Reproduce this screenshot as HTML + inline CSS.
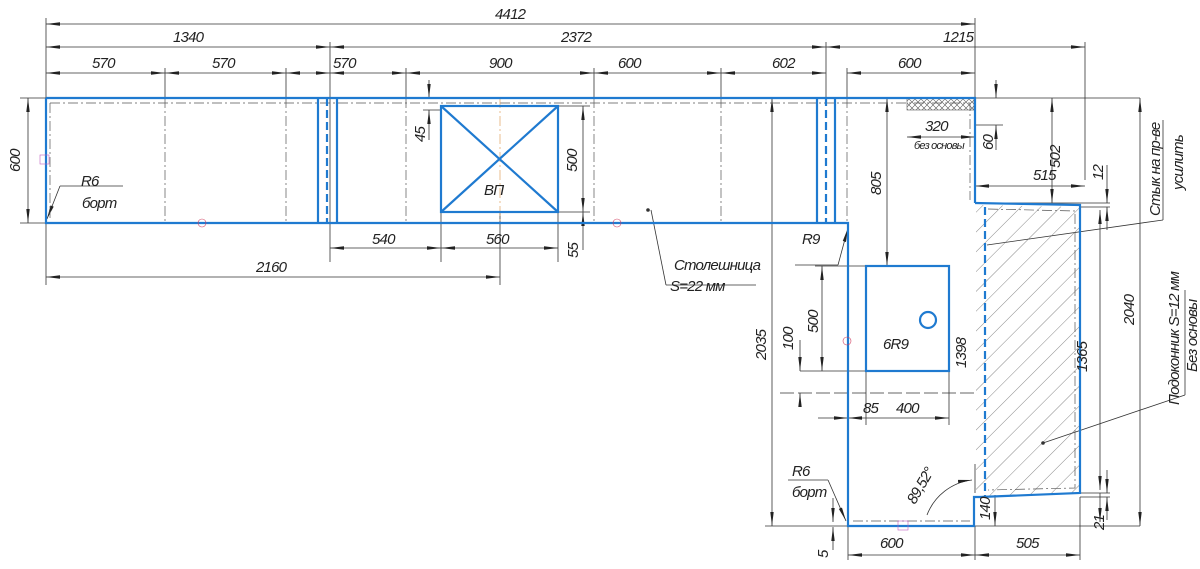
<!DOCTYPE html>
<html><head><meta charset="utf-8"><style>
html,body{margin:0;padding:0;background:#fff}
svg{display:block}
text{font-family:"Liberation Sans","DejaVu Sans",sans-serif;font-style:italic;font-size:15px;fill:#222;letter-spacing:-0.8px}
.d{stroke:#333;stroke-width:0.8;fill:none}
.b{stroke:#1f7ad0;stroke-width:2.2;fill:none}
.bd{stroke:#1f7ad0;stroke-width:2.2;fill:none;stroke-dasharray:8 4}
.da{stroke:#555;stroke-width:0.7;fill:none;stroke-dasharray:10 3 2 3}
</style></head><body>
<svg width="1200" height="569" viewBox="0 0 1200 569" xmlns="http://www.w3.org/2000/svg">
<defs>
<marker id="a" markerWidth="14" markerHeight="6" refX="14" refY="3" orient="auto-start-reverse" markerUnits="userSpaceOnUse"><path d="M0,1.3 L14,3 L0,4.7z" fill="#222"/></marker>
<pattern id="hat" width="14" height="14" patternUnits="userSpaceOnUse" patternTransform="rotate(45)"><line x1="0" y1="0" x2="0" y2="14" stroke="#555" stroke-width="0.7"/></pattern>
<pattern id="xh" width="6" height="6" patternUnits="userSpaceOnUse"><path d="M0,0L6,6M6,0L0,6" stroke="#555" stroke-width="0.6"/></pattern>
</defs>
<rect width="1200" height="569" fill="#fff"/>
<g class="d">
<line x1="46" y1="18" x2="46" y2="98"/><line x1="975" y1="18" x2="975" y2="98"/>
<line x1="330" y1="42" x2="330" y2="262"/><line x1="826" y1="42" x2="826" y2="98"/><line x1="1085" y1="42" x2="1085" y2="180"/>
<line x1="165" y1="68" x2="165" y2="98"/><line x1="286" y1="68" x2="286" y2="98"/><line x1="406" y1="68" x2="406" y2="98"/><line x1="594" y1="68" x2="594" y2="98"/><line x1="721" y1="68" x2="721" y2="98"/><line x1="847" y1="68" x2="847" y2="98"/>
<line x1="46" y1="223" x2="46" y2="285"/><line x1="500" y1="212" x2="500" y2="285"/><line x1="441" y1="212" x2="441" y2="262"/><line x1="558" y1="212" x2="558" y2="262"/>
<line x1="20" y1="98" x2="46" y2="98"/><line x1="20" y1="223" x2="46" y2="223"/>
<line x1="423" y1="110" x2="441" y2="110"/><line x1="558" y1="106" x2="590" y2="106"/><line x1="558" y1="212" x2="590" y2="212"/>
<line x1="975" y1="98" x2="1140" y2="98"/><line x1="975" y1="125" x2="1003" y2="125"/>
<line x1="975" y1="203" x2="1110" y2="203"/><line x1="1080" y1="207" x2="1110" y2="207"/>
<line x1="1080" y1="493" x2="1110" y2="493"/><line x1="1080" y1="497" x2="1110" y2="497"/>
<line x1="765" y1="526" x2="848" y2="526"/><line x1="975" y1="526" x2="1140" y2="526"/>
<line x1="800" y1="371" x2="866" y2="371"/><line x1="815" y1="266" x2="866" y2="266"/>
<line x1="848" y1="526" x2="848" y2="560"/><line x1="975" y1="526" x2="975" y2="560"/><line x1="1080" y1="497" x2="1080" y2="560"/>
<line x1="866" y1="371" x2="866" y2="425"/><line x1="949" y1="371" x2="949" y2="425"/>
</g>
<g class="d" marker-start="url(#a)" marker-end="url(#a)">
<line x1="46" y1="24" x2="975" y2="24"/>
<line x1="46" y1="47" x2="330" y2="47"/><line x1="330" y1="47" x2="826" y2="47"/><line x1="826" y1="47" x2="1085" y2="47"/>
<line x1="46" y1="73" x2="165" y2="73"/><line x1="165" y1="73" x2="286" y2="73"/><line x1="286" y1="73" x2="330" y2="73"/><line x1="330" y1="73" x2="406" y2="73"/><line x1="406" y1="73" x2="594" y2="73"/><line x1="594" y1="73" x2="721" y2="73"/><line x1="721" y1="73" x2="826" y2="73"/><line x1="847" y1="73" x2="975" y2="73"/>
<line x1="28" y1="98" x2="28" y2="223"/>
<line x1="330" y1="248" x2="441" y2="248"/><line x1="441" y1="248" x2="558" y2="248"/>
<line x1="46" y1="277" x2="500" y2="277"/>
<line x1="583" y1="106" x2="583" y2="212"/>
<line x1="772" y1="98" x2="772" y2="526"/>
<line x1="887" y1="98" x2="887" y2="266"/>
<line x1="1052" y1="98" x2="1052" y2="203"/>
<line x1="1140" y1="98" x2="1140" y2="526"/>
<line x1="1100" y1="210" x2="1100" y2="490"/>
<line x1="975" y1="186" x2="1085" y2="186"/>
<line x1="907" y1="137" x2="975" y2="137"/>
<line x1="822" y1="266" x2="822" y2="371"/>
<line x1="848" y1="418" x2="949" y2="418"/>
<line x1="848" y1="555" x2="975" y2="555"/><line x1="975" y1="555" x2="1080" y2="555"/>
</g>
<g class="d" marker-end="url(#a)">
<line x1="429" y1="80" x2="429" y2="98"/><line x1="429" y1="140" x2="429" y2="110"/>
<line x1="583" y1="250" x2="583" y2="212"/>
<line x1="996" y1="80" x2="996" y2="98"/><line x1="996" y1="150" x2="996" y2="125"/>
<line x1="1107" y1="165" x2="1107" y2="203"/><line x1="1107" y1="230" x2="1107" y2="207"/>
<line x1="1107" y1="470" x2="1107" y2="493"/><line x1="1107" y1="520" x2="1107" y2="497"/>
<line x1="800" y1="340" x2="800" y2="371"/><line x1="800" y1="405" x2="800" y2="393"/>
<line x1="833" y1="498" x2="833" y2="522"/><line x1="833" y1="550" x2="833" y2="527"/>
<line x1="995" y1="495" x2="995" y2="526"/>
<line x1="818" y1="418" x2="848" y2="418"/>
<line x1="60" y1="186" x2="47" y2="219"/>
<line x1="838" y1="265" x2="848" y2="228"/>
<line x1="828" y1="480" x2="846" y2="521"/>
<line x1="1100" y1="493" x2="1100" y2="522"/>
</g>
<g class="d">
<line x1="60" y1="186" x2="123" y2="186"/>
<line x1="795" y1="265" x2="838" y2="265"/>
<line x1="788" y1="480" x2="828" y2="480"/>
<line x1="651" y1="210" x2="666" y2="285"/><line x1="666" y1="285" x2="756" y2="285"/>
<line x1="987" y1="245" x2="1163" y2="220"/><line x1="1163" y1="220" x2="1163" y2="120"/>
<line x1="1043" y1="443" x2="1185" y2="395"/><line x1="1185" y1="395" x2="1185" y2="290"/>
<line x1="975" y1="100" x2="975" y2="125"/>
<line x1="780" y1="393" x2="975" y2="393" stroke-dasharray="14 4"/>
<line x1="975" y1="464" x2="975" y2="493"/>
<path d="M927,515 A55,55 0 0 1 972,480" marker-end="url(#a)"/>
</g>
<rect x="907" y="98" width="67" height="12" fill="url(#xh)" stroke="#555" stroke-width="0.6"/>
<polygon points="976,205 1080,207 1080,493 980,497 976,497" fill="url(#hat)"/>
<g class="da">
<polyline points="50,103 970,103 970,200"/>
<line x1="50" y1="103" x2="50" y2="218"/>
<polyline points="853,521 970,521"/>
<polyline points="988,209 1075,211 1075,488 988,490"/>
<line x1="165" y1="98" x2="165" y2="223"/><line x1="286" y1="98" x2="286" y2="223"/><line x1="406" y1="98" x2="406" y2="223"/><line x1="594" y1="98" x2="594" y2="223"/><line x1="721" y1="98" x2="721" y2="223"/><line x1="847" y1="98" x2="847" y2="223"/>
<line x1="500" y1="98" x2="500" y2="223" stroke="#e0a060"/>
</g>
<polyline class="b" points="46,98 975,98 975,203"/>
<polyline class="b" points="46,98 46,223 848,223 848,526 974,526 974,497 980,497 1080,493 1080,205 975,203"/>
<line class="b" x1="318" y1="98" x2="318" y2="223"/><line class="b" x1="337" y1="98" x2="337" y2="223"/><line class="bd" x1="327" y1="98" x2="327" y2="223"/>
<line class="b" x1="817" y1="98" x2="817" y2="223"/><line class="b" x1="835" y1="98" x2="835" y2="223"/><line class="bd" x1="826" y1="98" x2="826" y2="223"/>
<rect class="b" x="441" y="106" width="117" height="106"/>
<line class="b" x1="441" y1="106" x2="558" y2="212"/><line class="b" x1="558" y1="106" x2="441" y2="212"/>
<rect class="b" x="866" y="266" width="83" height="105"/>
<circle class="b" cx="928" cy="320" r="8"/>
<line class="bd" x1="985" y1="207" x2="985" y2="497"/>
<rect x="40" y="155" width="9" height="9" fill="none" stroke="#c060c0" stroke-width="0.6"/>
<rect x="898" y="521" width="10" height="9" fill="none" stroke="#c060c0" stroke-width="0.6"/>
<circle cx="202" cy="223" r="4" fill="none" stroke="#d04060" stroke-width="0.6"/>
<circle cx="617" cy="223" r="4" fill="none" stroke="#d04060" stroke-width="0.6"/>
<circle cx="847" cy="341" r="4" fill="none" stroke="#d04060" stroke-width="0.6"/>
<circle cx="648" cy="210" r="1.8" fill="#333"/><circle cx="1043" cy="443" r="1.8" fill="#333"/>
<text x="495" y="19">4412</text>
<text x="173" y="42">1340</text><text x="561" y="42">2372</text><text x="943" y="42">1215</text>
<text x="92" y="68">570</text><text x="212" y="68">570</text><text x="333" y="68">570</text><text x="489" y="68">900</text><text x="618" y="68">600</text><text x="772" y="68">602</text><text x="898" y="68">600</text>
<text x="372" y="244">540</text><text x="486" y="244">560</text><text x="256" y="272">2160</text>
<text x="81" y="186">R6</text><text x="82" y="208">борт</text>
<text x="484" y="195">ВП</text><text x="883" y="349">6R9</text>
<text x="802" y="244">R9</text>
<text x="674" y="270">Столешница</text><text x="670" y="291">S=22 мм</text>
<text x="925" y="131">320</text><text x="914" y="149" style="font-size:11px">без основы</text>
<text x="1033" y="180">515</text>
<text x="792" y="476">R6</text><text x="792" y="497">борт</text>
<text x="880" y="548">600</text><text x="1016" y="548">505</text>
<text x="863" y="413">85</text><text x="896" y="413">400</text>
<g>
<text transform="translate(20,172) rotate(-90)">600</text>
<text transform="translate(425,142) rotate(-90)">45</text>
<text transform="translate(577,172) rotate(-90)">500</text>
<text transform="translate(578,258) rotate(-90)">55</text>
<text transform="translate(881,195) rotate(-90)">805</text>
<text transform="translate(766,360) rotate(-90)">2035</text>
<text transform="translate(793,350) rotate(-90)">100</text>
<text transform="translate(818,333) rotate(-90)">500</text>
<text transform="translate(966,368) rotate(-90)">1398</text>
<text transform="translate(1087,372) rotate(-90)">1365</text>
<text transform="translate(1134,325) rotate(-90)">2040</text>
<text transform="translate(993,150) rotate(-90)">60</text>
<text transform="translate(1060,168) rotate(-90)">502</text>
<text transform="translate(1103,180) rotate(-90)">12</text>
<text transform="translate(1104,530) rotate(-90)">21</text>
<text transform="translate(990,520) rotate(-90)">140</text>
<text transform="translate(828,558) rotate(-90)">5</text>
<text transform="translate(915,505) rotate(-60)">89,52°</text>
<text transform="translate(1160,216) rotate(-90)">Стык на пр-ве</text>
<text transform="translate(1183,190) rotate(-90)">усилить</text>
<text transform="translate(1179,405) rotate(-90)">Подоконник S=12 мм</text>
<text transform="translate(1197,372) rotate(-90)">Без основы</text>
</g>
</svg>
</body></html>
